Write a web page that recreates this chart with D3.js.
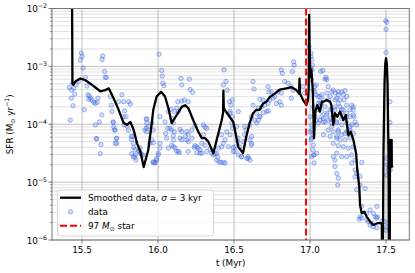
<!DOCTYPE html>
<html>
<head>
<meta charset="utf-8">
<script src="https://cdn.jsdelivr.net/npm/d3@7"></script>
<style>
body { margin: 0; background: #fff; }
svg { display: block; font-family: "DejaVu Sans", sans-serif; }
</style>
</head>
<body>
<div id="chart"></div>
<script>
// Smoothed SFR curve: [t (Myr), log10 SFR]
var smoothed = [
  [15.434,-1.5],[15.437,-3.30],[15.443,-3.32],[15.456,-3.26],[15.489,-3.21],[15.522,-3.24],[15.566,-3.32],
  [15.620,-3.43],[15.653,-3.41],[15.676,-3.38],[15.697,-3.49],[15.741,-3.75],[15.774,-3.98],[15.796,-4.01],
  [15.818,-3.96],[15.840,-4.10],[15.862,-4.33],[15.884,-4.47],[15.906,-4.74],[15.936,-4.44],[15.959,-3.98],
  [15.969,-3.75],[15.991,-3.52],[16.020,-3.44],[16.046,-3.52],[16.068,-3.72],[16.090,-3.98],[16.123,-3.84],
  [16.156,-3.70],[16.178,-3.67],[16.199,-3.72],[16.232,-3.93],[16.265,-4.13],[16.288,-4.24],[16.309,-4.24],
  [16.331,-4.30],[16.364,-4.50],[16.386,-4.27],[16.419,-3.93],[16.428,-3.80],[16.430,-3.42],[16.433,-3.72],
  [16.441,-3.76],[16.463,-3.84],[16.495,-3.96],[16.528,-4.39],[16.559,-4.50],[16.581,-4.21],[16.603,-3.98],
  [16.625,-3.81],[16.647,-3.75],[16.669,-3.75],[16.691,-3.64],[16.713,-3.61],[16.735,-3.53],[16.768,-3.47],
  [16.801,-3.40],[16.844,-3.38],[16.877,-3.36],[16.910,-3.41],[16.928,-3.47],[16.931,-3.21],[16.934,-3.47],
  [16.954,-3.58],[16.976,-3.67],[16.987,-3.58],[16.991,-3.40],[16.994,-2.11],[16.998,-2.80],[17.002,-3.18],
  [17.009,-3.06],[17.018,-3.41],[17.026,-4.24],[17.035,-3.78],[17.048,-3.67],[17.064,-3.78],[17.079,-3.61],
  [17.088,-3.61],[17.110,-3.58],[17.132,-3.61],[17.140,-3.67],[17.153,-4.01],[17.164,-3.81],[17.180,-3.87],
  [17.197,-3.78],[17.219,-3.93],[17.235,-3.84],[17.252,-4.19],[17.268,-4.13],[17.285,-4.27],[17.303,-4.50],
  [17.311,-4.79],[17.324,-5.08],[17.329,-5.39],[17.340,-5.54],[17.357,-5.51],[17.373,-5.60],[17.395,-5.68],
  [17.416,-5.74],[17.443,-5.71],[17.468,-5.71],[17.472,-5.73],[17.475,-7],[17.478,-7],[17.483,-4.5],
  [17.490,-3.3],[17.495,-2.95],[17.500,-2.86],[17.505,-2.95],[17.510,-3.3],[17.516,-4.5],[17.520,-7],
  [17.524,-7],[17.526,-4.27],[17.532,-4.30],[17.537,-4.27],[17.538,-4.72],[17.542,-4.75]
];

// Raw data points: [t (Myr), log10 SFR]
var dataPoints = [
  [15.495,-2.77],[15.5,-2.83],[15.489,-2.89],[15.507,-3.03],[15.636,-2.82],[15.632,-2.88],[15.649,-3.09],
  [15.653,-3.19],[15.660,-3.19],[15.522,-3.19],[15.416,-3.36],[15.430,-3.41],[15.445,-3.38],[15.452,-3.48],
  [15.430,-3.55],[15.441,-3.68],[15.423,-3.93],[15.515,-3.75],[15.533,-3.34],[15.539,-3.49],[15.548,-3.51],
  [15.555,-3.55],[15.566,-3.58],[15.577,-3.62],[15.587,-3.64],[15.544,-3.57],[15.605,-3.55],[15.599,-3.62],
  [15.686,-3.52],[15.693,-3.67],[15.697,-3.78],[15.704,-3.96],[15.709,-4.05],[15.715,-4.10],[15.726,-4.25],
  [15.719,-4.33],[15.614,-3.96],[15.588,-4.01],[15.594,-4.25],[15.625,-4.35],[15.620,-4.51],[15.763,-3.49],
  [15.774,-3.61],[15.807,-3.61],[15.818,-3.65],[15.781,-3.77],[15.789,-3.87],[15.796,-4.03],[15.829,-4.21],
  [15.824,-4.26],[15.840,-4.40],[15.851,-4.53],[15.847,-4.57],[15.873,-4.46],[15.884,-4.50],[15.923,-3.91],
  [15.923,-4.07],[15.741,-3.61],[15.439,-3.29],[15.461,-3.32],[15.476,-3.26],
  [15.706,-3.97],[15.717,-4.10],[15.728,-4.24],[15.728,-4.33],[15.772,-3.87],[15.776,-4.01],[15.805,-4.10],
  [15.827,-4.21],[15.838,-4.33],[15.849,-4.44],[15.838,-4.56],[15.855,-4.62],[15.877,-4.47],[15.893,-4.53],
  [15.926,-3.98],[15.926,-4.13],[15.947,-4.33],[15.969,-4.65],[15.980,-4.67],[15.991,-4.62],[16.002,-4.50],
  [15.630,-3.84],[15.597,-4.25],[15.827,-4.51],[15.882,-4.41],[15.903,-4.53],[15.969,-4.32],
  [16.007,-2.79],[16.024,-3.07],[16.028,-3.17],[16.031,-3.29],[16.039,-3.33],[16.151,-3.21],[16.206,-3.22],
  [16.156,-3.32],[16.211,-3.40],[16.228,-3.45],[16.434,-3.06],[16.447,-3.26],[16.430,-3.32],[16.469,-3.61],
  [16.480,-3.67],[16.489,-3.58],[16.474,-3.78],[16.489,-3.87],[16.130,-3.61],[16.156,-3.60],[16.173,-3.58],
  [16.199,-3.61],[16.086,-3.74],[16.068,-3.78],[16.107,-3.78],[16.123,-3.72],[16.134,-3.78],[16.013,-3.87],
  [16.046,-3.96],[16.090,-3.90],[16.101,-3.98],[15.926,-3.91],[15.936,-4.04],[15.914,-4.10],[15.959,-3.98],
  [15.969,-4.10],[15.959,-4.27],[16.064,-4.07],[16.079,-4.07],[16.090,-4.10],[16.051,-4.16],[16.057,-4.24],
  [16.107,-4.13],[16.145,-4.09],[16.156,-4.13],[16.189,-4.13],[16.199,-4.17],[16.222,-4.10],[16.243,-4.03],
  [16.222,-4.24],[16.189,-4.27],[16.156,-4.27],[16.101,-4.27],[16.090,-4.36],[16.112,-4.41],[16.134,-4.47],
  [16.013,-4.33],[16.013,-4.41],[16.002,-4.53],[15.991,-4.59],[15.980,-4.66],[15.969,-4.66],[16.243,-4.37],
  [16.255,-4.39],[16.239,-4.40],[16.265,-4.41],[16.255,-4.49],[16.276,-4.50],[16.298,-4.01],[16.309,-4.05],
  [16.320,-4.07],[16.298,-4.18],[16.288,-4.33],[16.309,-4.36],[16.342,-4.43],[16.320,-4.47],[16.353,-4.50],
  [16.364,-4.53],[16.375,-4.51],[16.393,-4.57],[16.386,-4.62],[16.401,-4.65],[16.414,-4.66],[16.430,-4.66],
  [16.441,-4.67],[16.463,-4.39],[16.495,-4.40],[16.507,-4.47],[16.528,-4.53],[16.419,-4.39],[16.441,-4.27],
  [16.474,-4.18],[16.491,-4.07],[16.518,-4.04],[16.528,-3.78],[16.524,-4.30],
  [16.068,-4.41],[16.101,-4.39],[16.101,-4.20],[16.123,-4.47],[16.145,-4.24],[16.178,-4.21],[16.199,-4.30],
  [16.276,-4.44],[16.288,-4.50],[16.199,-4.47],[16.140,-4.49],
  [16.386,-4.50],[16.397,-4.41],[16.419,-4.18],[16.430,-4.33],[16.452,-4.13],[16.485,-3.98],[16.474,-3.81],
  [16.507,-4.39],[16.495,-4.47],[16.551,-4.56],[16.594,-4.59],[16.605,-4.62],[16.584,-4.59],[16.616,-4.33],
  [16.605,-4.27],[16.616,-4.21],[16.649,-3.98],[16.660,-3.93],[16.671,-3.87],[16.693,-3.80],[16.715,-3.78],
  [16.726,-3.77],[17.011,-4.10],[17.011,-4.24],[17.022,-4.36],[17.018,-4.44],[17.026,-4.67],[17.044,-4.50],
  [17.039,-3.93],
  [16.625,-3.26],[16.632,-3.39],[16.724,-3.35],[16.730,-3.44],[16.811,-3.06],[16.818,-3.12],[16.893,-2.92],
  [16.895,-2.98],[16.884,-3.09],[16.833,-3.26],[16.855,-3.29],[16.877,-3.35],[16.888,-3.41],[16.877,-3.55],
  [16.811,-3.46],[16.789,-3.44],[16.768,-3.52],[16.745,-3.44],[16.757,-3.55],[16.801,-3.61],[16.811,-3.67],
  [16.778,-3.64],[16.735,-3.58],[16.724,-3.64],[16.702,-3.67],[16.691,-3.58],[16.680,-3.70],[16.658,-3.72],
  [16.625,-3.67],[16.647,-3.81],[16.669,-3.87],[16.636,-3.93],[16.614,-3.87],[16.603,-4.01],[16.581,-4.10],
  [16.570,-4.04],[16.570,-4.18],[16.614,-4.36],[16.559,-4.30],[16.548,-4.56],[16.592,-4.56],[16.538,-4.39],
  [16.526,-4.24],[16.954,-3.35],[16.965,-3.46],[16.993,-2.66],[17.004,-2.83],[17.004,-3.03],[16.998,-3.12],
  [17.013,-3.06],[17.009,-3.23],[17.031,-3.35],[17.041,-3.32],[17.031,-3.44],[17.041,-3.49],[17.053,-3.52],
  [17.064,-3.61],[17.074,-3.64],[17.070,-3.09],[17.020,-4.18],[17.026,-4.53],
  [16.456,-3.41],[16.671,-3.57],[17.007,-2.77],[17.011,-2.88],[17.015,-2.98],[17.084,-3.07],[17.105,-3.19],
  [17.110,-3.23],[17.120,-3.35],[17.143,-3.44],[17.153,-3.41],[17.164,-3.46],[17.186,-3.44],[17.208,-3.44],
  [17.230,-3.42],[17.219,-3.49],[17.241,-3.52],[17.224,-3.58],[17.197,-3.58],[17.186,-3.64],[17.176,-3.55],
  [17.120,-3.58],[17.088,-3.58],[17.066,-3.52],[17.055,-3.64],[17.066,-3.70],[17.099,-3.70],[17.132,-3.75],
  [17.164,-3.75],[17.197,-3.70],[17.219,-3.75],[17.263,-3.75],[17.274,-3.67],[17.285,-3.70],[17.285,-3.84],
  [17.289,-3.87],[17.241,-3.87],[17.208,-3.81],[17.153,-3.84],[17.110,-3.81],[17.077,-3.78],[17.044,-3.75],
  [17.033,-3.87],[17.055,-3.98],[17.088,-3.96],[17.120,-3.93],[17.143,-3.98],[17.176,-3.96],[17.208,-4.01],
  [17.241,-3.98],[17.263,-4.04],[17.252,-4.13],[17.230,-4.16],[17.186,-4.10],[17.153,-4.13],[17.132,-4.21],
  [17.176,-4.21],[17.197,-4.27],[17.088,-4.18],[17.498,-2.21],[17.505,-2.24],[17.500,-2.36],[17.500,-2.76],
  [17.526,-3.61],
  [17.099,-3.22],[17.186,-3.49],[17.241,-3.67],[17.164,-3.58],[17.132,-3.52],[17.110,-3.46],[17.077,-3.49],
  [17.022,-3.41],[17.022,-3.70],[17.0,-3.87],[17.011,-4.01],[17.0,-4.13],[17.007,-4.27],[17.022,-4.53],
  [17.011,-4.56],[17.066,-3.93],[17.077,-3.87],[17.088,-3.90],[17.099,-3.96],[17.110,-3.84],[17.132,-3.90],
  [17.153,-3.93],[17.176,-3.98],[17.143,-4.04],[17.120,-4.10],[17.186,-4.13],[17.208,-4.18],[17.241,-4.13],
  [17.263,-4.10],[17.285,-4.16],[17.263,-4.24],[17.230,-4.27],[17.176,-4.24],[17.153,-4.33],[17.186,-4.37],
  [17.219,-4.39],[17.252,-4.41],[17.285,-4.39],[17.274,-4.53],[17.296,-4.62],[17.274,-4.67],[17.241,-4.56],
  [17.208,-4.56],[17.176,-4.50],[17.153,-4.56],[17.164,-4.62],[17.164,-4.73],[17.176,-4.85],[17.186,-4.93],
  [17.182,-5.05],[17.296,-4.79],[17.307,-4.85],[17.296,-4.91],[17.263,-3.87],[17.285,-3.75],[17.296,-3.96],
  [17.307,-4.01],[17.274,-4.01],[17.143,-3.75],[17.164,-3.70],[17.208,-3.75],[17.241,-3.81],[17.208,-3.90],
  [17.362,-5.11],[17.329,-5.60],[17.340,-5.62],[17.324,-5.64],[17.373,-5.65],[17.384,-5.68],[17.406,-5.71],
  [17.395,-5.74],[17.416,-5.77],[17.439,-5.79],[17.443,-5.60],[17.472,-5.68],[17.500,-5.83],[17.505,-4.59],
  [17.509,-4.70],[17.521,-4.73],[17.528,-4.79],[17.515,-4.79],[17.505,-4.88],
  [17.526,-3.97],[17.340,-4.66],[17.329,-4.90],[17.329,-5.05],[17.340,-5.42],[17.373,-5.54],[17.395,-5.48],
  [17.428,-5.60],[17.439,-5.62],[17.416,-5.54],[17.439,-5.42],[17.493,-5.68],[17.505,-5.77],[17.307,-5.13]
];

var starTime = 16.974;     // Myr
var starMass = 97;         // Msun
var sigmaKyr = 3;
var xTicks = [15.5, 16.0, 16.5, 17.0, 17.5];
var yTickExps = [-2, -3, -4, -5, -6];

function init() {
    var W = 415, H = 273;
    var left = 52, top = 8.5, right = 409.3, bottom = 240;

    var svg = d3.select("#chart").append("svg")
        .attr("width", W).attr("height", H);

    var x = d3.scaleLinear().domain([15.3026, 17.653]).range([left, right]);
    var y = d3.scaleLog().domain([1e-6, 1e-2]).range([bottom, top]);

    svg.append("clipPath").attr("id", "plotclip")
        .append("rect")
        .attr("x", left).attr("y", top)
        .attr("width", right - left).attr("height", bottom - top);

    // Grid: minor y lines, major y lines, major x lines
    var minorY = [];
    for (var e = -6; e < -2; e++) {
        for (var m = 2; m <= 9; m++) minorY.push(m * Math.pow(10, e));
    }
    var grid = svg.append("g");
    grid.selectAll(".ym").data(minorY).enter().append("line")
        .attr("x1", left).attr("x2", right)
        .attr("y1", d => y(d)).attr("y2", d => y(d))
        .attr("stroke", "#d8d8d8").attr("stroke-width", 0.8);
    grid.selectAll(".yM").data(yTickExps).enter().append("line")
        .attr("x1", left).attr("x2", right)
        .attr("y1", d => y(Math.pow(10, d))).attr("y2", d => y(Math.pow(10, d)))
        .attr("stroke", "#b0b0b0").attr("stroke-width", 0.8);
    grid.selectAll(".xM").data(xTicks).enter().append("line")
        .attr("x1", d => x(d)).attr("x2", d => x(d))
        .attr("y1", top).attr("y2", bottom)
        .attr("stroke", "#b0b0b0").attr("stroke-width", 0.8);

    var plot = svg.append("g").attr("clip-path", "url(#plotclip)");

    // scatter
    plot.selectAll("circle").data(dataPoints).enter().append("circle")
        .attr("cx", d => x(d[0]))
        .attr("cy", d => y(Math.pow(10, d[1])))
        .attr("r", 2.2)
        .attr("fill", "royalblue").attr("fill-opacity", 0.22)
        .attr("stroke", "royalblue").attr("stroke-opacity", 0.55)
        .attr("stroke-width", 0.8);

    // smoothed line
    var line = d3.line()
        .x(d => x(d[0]))
        .y(d => y(Math.pow(10, d[1])));
    plot.append("path").datum(smoothed)
        .attr("d", line)
        .attr("fill", "none").attr("stroke", "#000")
        .attr("stroke-width", 2.3).attr("stroke-linejoin", "round");

    // star line
    plot.append("line")
        .attr("x1", x(starTime)).attr("x2", x(starTime))
        .attr("y1", top).attr("y2", bottom)
        .attr("stroke", "red").attr("stroke-width", 2)
        .attr("stroke-dasharray", "7,3");

    // frame
    svg.append("rect")
        .attr("x", left).attr("y", top)
        .attr("width", right - left).attr("height", bottom - top)
        .attr("fill", "none").attr("stroke", "#777").attr("stroke-width", 1);

    // x axis ticks + labels
    var xa = svg.append("g");
    xa.selectAll("line").data(xTicks).enter().append("line")
        .attr("x1", d => x(d)).attr("x2", d => x(d))
        .attr("y1", bottom).attr("y2", bottom + 3.5)
        .attr("stroke", "#555").attr("stroke-width", 0.8);
    xa.selectAll("text").data(xTicks).enter().append("text")
        .attr("x", d => x(d)).attr("y", bottom + 13)
        .attr("text-anchor", "middle").attr("font-size", 8.8)
        .text(d => d.toFixed(1));

    // y axis ticks + labels
    var ya = svg.append("g");
    ya.selectAll(".mt").data(minorY).enter().append("line")
        .attr("x1", left - 2).attr("x2", left)
        .attr("y1", d => y(d)).attr("y2", d => y(d))
        .attr("stroke", "#555").attr("stroke-width", 0.6);
    ya.selectAll(".Mt").data(yTickExps).enter().append("line")
        .attr("x1", left - 3.5).attr("x2", left)
        .attr("y1", d => y(Math.pow(10, d))).attr("y2", d => y(Math.pow(10, d)))
        .attr("stroke", "#555").attr("stroke-width", 0.8);
    var yl = ya.selectAll("text").data(yTickExps).enter().append("text")
        .attr("x", left - 5).attr("y", d => y(Math.pow(10, d)) + 3.5)
        .attr("text-anchor", "end").attr("font-size", 8.8);
    yl.append("tspan").text("10");
    yl.append("tspan").attr("dy", -4).attr("font-size", 6.2)
        .text(d => "\u2212" + Math.abs(d));

    // axis labels
    svg.append("text")
        .attr("x", (left + right) / 2).attr("y", 266)
        .attr("text-anchor", "middle").attr("font-size", 8.8)
        .text("t (Myr)");

    var ylab = svg.append("text")
        .attr("transform", "translate(13," + ((top + bottom) / 2) + ") rotate(-90)")
        .attr("text-anchor", "middle").attr("font-size", 8.8);
    ylab.append("tspan").text("SFR (M");
    ylab.append("tspan").attr("font-size", 6.2).attr("dy", 2).text("\u2299");
    ylab.append("tspan").attr("dy", -2).text(" yr");
    ylab.append("tspan").attr("font-size", 6.2).attr("dy", -4).text("\u22121");
    ylab.append("tspan").attr("dy", 4).text(")");

    // legend
    var lg = svg.append("g");
    lg.append("rect")
        .attr("x", 57.5).attr("y", 190).attr("width", 156).attr("height", 46)
        .attr("rx", 2.5)
        .attr("fill", "#fff").attr("fill-opacity", 0.8)
        .attr("stroke", "#ccc").attr("stroke-width", 0.8);
    lg.append("line").attr("x1", 60).attr("x2", 81).attr("y1", 197.7).attr("y2", 197.7)
        .attr("stroke", "#000").attr("stroke-width", 2.3);
    lg.append("circle").attr("cx", 70.5).attr("cy", 211.7).attr("r", 2.2)
        .attr("fill", "royalblue").attr("fill-opacity", 0.22)
        .attr("stroke", "royalblue").attr("stroke-opacity", 0.55).attr("stroke-width", 0.8);
    lg.append("line").attr("x1", 60).attr("x2", 81).attr("y1", 225.7).attr("y2", 225.7)
        .attr("stroke", "red").attr("stroke-width", 2).attr("stroke-dasharray", "7,3");

    var t1 = lg.append("text").attr("x", 88).attr("y", 200.8).attr("font-size", 8.8);
    t1.append("tspan").text("Smoothed data, ");
    t1.append("tspan").attr("font-style", "italic").text("\u03c3");
    t1.append("tspan").text(" = " + sigmaKyr + " kyr");

    lg.append("text").attr("x", 88).attr("y", 214.8).attr("font-size", 8.8).text("data");

    var t3 = lg.append("text").attr("x", 88).attr("y", 228.8).attr("font-size", 8.8);
    t3.append("tspan").text(starMass + " ");
    t3.append("tspan").attr("font-style", "italic").text("M");
    t3.append("tspan").attr("font-size", 6.2).attr("dy", 2).text("\u2299");
    t3.append("tspan").attr("dy", -2).text(" star");
}

init();
</script>
</body>
</html>
